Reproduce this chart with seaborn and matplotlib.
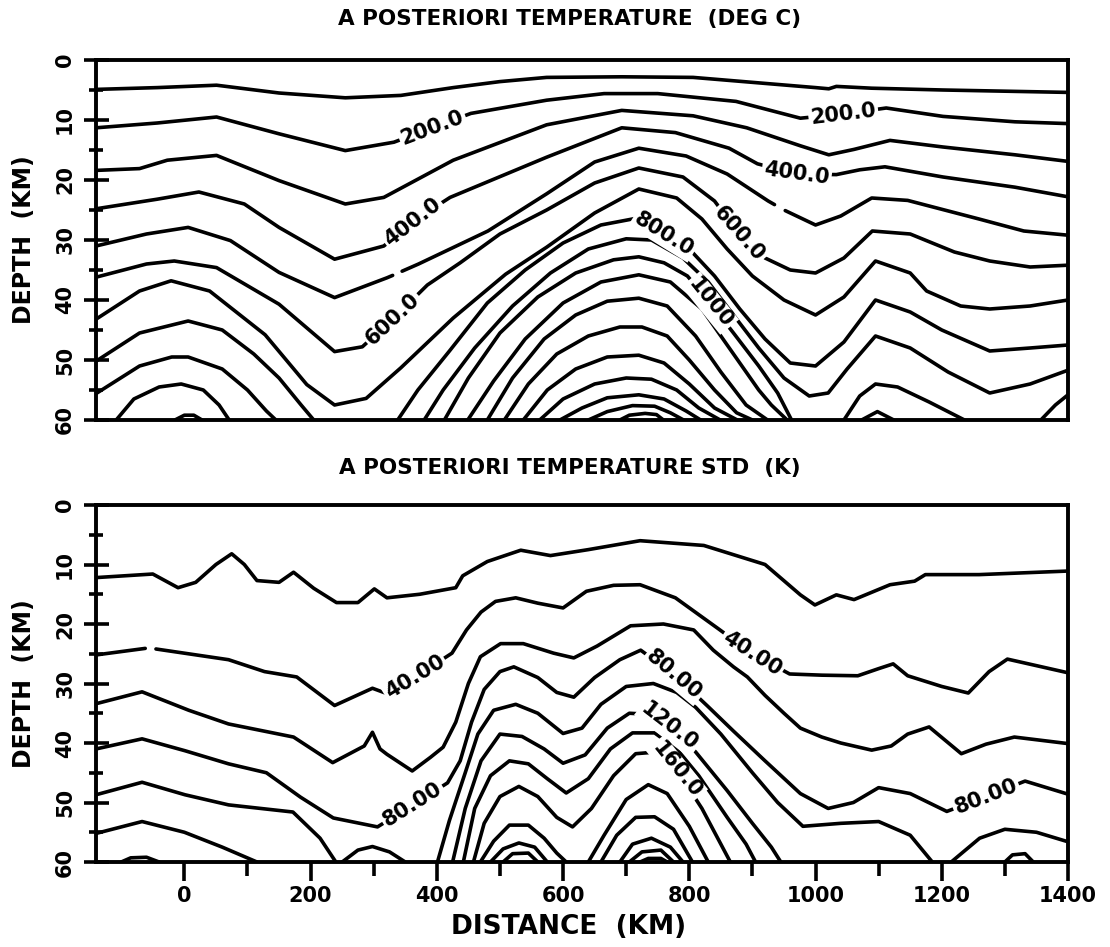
import numpy as np
import matplotlib
matplotlib.use("Agg")
import matplotlib.pyplot as plt
from matplotlib.ticker import FixedLocator
import seaborn as sns

# ---------------------------------------------------------------------------
# Contour lines of the a-posteriori temperature section, as (distance km, depth km)
# ---------------------------------------------------------------------------
T100 = [(-140, 4.9), (-43, 4.6), (51, 4.2), (150, 5.5), (255, 6.3), (343, 5.9), (426, 4.6),
        (500, 3.6), (574, 2.9), (693, 2.8), (806, 2.9), (920, 3.9), (1000, 4.6), (1021, 4.8),
        (1033, 4.4), (1089, 4.7), (1202, 5.0), (1400, 5.4)]
T200 = [(-140, 11.3), (-43, 10.5), (51, 9.5), (150, 12.3), (255, 15.1), (332, 13.7), (393, 11.3),
        (454, 8.9), (574, 6.7), (665, 5.6), (750, 5.6), (874, 6.9), (976, 9.7), (1044, 9.0),
        (1112, 8.0), (1202, 9.4), (1316, 10.3), (1400, 10.6)]
T300 = [(-140, 18.4), (-71, 18.1), (-27, 16.7), (51, 15.9), (150, 20.1), (255, 24.0), (316, 22.9),
        (426, 16.7), (574, 10.8), (693, 8.4), (806, 9.3), (891, 11.3), (976, 14.3), (1021, 15.8),
        (1061, 14.9), (1118, 13.4), (1202, 14.5), (1316, 15.8), (1400, 16.9)]
T400 = [(-140, 24.8), (-43, 23.2), (23, 22.0), (95, 24.0), (150, 27.9), (238, 33.2), (316, 31.0),
        (368, 26.5), (421, 22.9), (574, 16.2), (693, 11.3), (778, 12.1), (863, 14.7), (908, 17.3),
        (970, 19.0), (1033, 19.1), (1070, 18.3), (1110, 17.8), (1202, 19.5), (1316, 21.2), (1400, 22.8)]
T500_a = [(-140, 31.0), (-60, 29.0), (6, 27.9), (73, 30.1), (150, 35.4), (238, 39.6), (321, 36.3),
          (330, 35.9)]
T500_b = [(345, 35.2), (371, 34.0), (481, 28.5), (574, 22.3), (650, 17.0), (720, 14.7), (795, 16.0),
          (860, 19.0), (925, 23.5), (935, 24.1)]
T500_c = [(952, 25.1), (960, 25.5), (1000, 27.5), (1040, 26.0), (1089, 23.0), (1146, 23.4),
          (1259, 26.5), (1330, 28.5), (1400, 29.2)]
T600 = [(-140, 36.2), (-60, 34.0), (-16, 33.5), (51, 34.6), (150, 40.7), (238, 48.6), (282, 47.8),
        (334, 42.8), (385, 37.5), (437, 33.8), (500, 29.0), (574, 25.0), (650, 20.5), (720, 18.0),
        (790, 19.5), (840, 23.5), (879, 29.0), (920, 33.0), (960, 35.0), (1000, 35.5), (1045, 33.0),
        (1090, 28.5), (1150, 29.0), (1220, 32.0), (1276, 33.5), (1340, 34.5), (1400, 34.2)]
T700 = [(-140, 43.2), (-71, 38.5), (-21, 36.8), (40, 38.5), (128, 45.8), (194, 54.1), (238, 57.5),
        (288, 56.4), (343, 51.3), (426, 43.0), (509, 35.7), (574, 31.2), (650, 25.5), (720, 21.5),
        (780, 23.0), (820, 26.5), (860, 31.5), (900, 36.0), (950, 40.0), (1000, 42.5), (1045, 39.5),
        (1095, 33.5), (1150, 35.5), (1176, 38.5), (1230, 41.0), (1276, 41.5), (1340, 41.0), (1400, 40.0)]
T800_a = [(-140, 50.2), (-71, 45.5), (6, 43.5), (60, 45.0), (110, 49.0), (150, 53.0), (185, 57.5),
          (205, 60.0)]
T800_b = [(338, 60.0), (370, 55.0), (420, 48.5), (480, 40.5), (540, 35.0), (600, 30.5), (660, 27.5),
          (720, 26.3), (760, 29.0), (800, 31.5), (840, 36.0), (880, 41.5), (920, 46.5), (960, 50.5),
          (1000, 51.0), (1045, 47.0), (1095, 40.0), (1150, 42.0), (1200, 45.0), (1276, 48.5),
          (1340, 48.0), (1400, 47.5)]
T900_a = [(-140, 55.6), (-71, 51.0), (-20, 49.5), (6, 49.5), (60, 51.5), (100, 55.0), (130, 58.5),
          (145, 60.0)]
T900_b = [(380, 60.0), (410, 55.0), (460, 48.0), (520, 41.0), (580, 35.5), (640, 31.5), (700, 29.8),
          (740, 30.0), (790, 33.0), (830, 37.0), (870, 42.5), (910, 48.0), (950, 53.0), (990, 56.0),
          (1020, 55.5), (1050, 51.5), (1095, 46.0), (1150, 48.0), (1210, 52.0), (1276, 55.5),
          (1340, 54.0), (1400, 51.7)]
T1000_a = [(-108, 60.0), (-80, 56.5), (-40, 54.5), (-5, 54.0), (30, 55.0), (55, 57.5), (71, 60.0)]
T1000_b = [(412, 60.0), (450, 53.0), (500, 45.5), (560, 39.5), (620, 35.5), (680, 33.3), (720, 32.8),
           (760, 33.8), (797, 36.0), (833, 40.5), (870, 45.5), (910, 51.0), (940, 55.5), (962, 60.0)]
T1000_c = [(1045, 60.0), (1070, 56.0), (1095, 54.0), (1130, 54.5), (1180, 57.0), (1236, 60.0)]
T1000_d = [(1357, 60.0), (1380, 57.5), (1400, 55.8)]
T1100_a = [(-15, 60.0), (0, 59.2), (15, 59.2), (28, 60.0)]
T1100_b = [(449, 60.0), (490, 53.5), (540, 46.5), (600, 40.5), (660, 37.0), (720, 35.8), (770, 37.0),
           (820, 41.5), (870, 49.0), (910, 55.0), (930, 57.5), (955, 60.0)]
T1100_c = [(1073, 60.0), (1098, 58.6), (1124, 60.0)]
T1200 = [(480, 60.0), (520, 53.0), (570, 46.5), (620, 42.5), (670, 40.2), (720, 39.7), (765, 41.0),
         (810, 46.0), (850, 52.0), (890, 57.5), (924, 60.0)]
T1300 = [(507, 60.0), (545, 54.0), (590, 49.0), (640, 46.0), (690, 44.5), (725, 44.5), (765, 46.0),
         (800, 50.0), (840, 55.0), (875, 58.8), (900, 60.0)]
T1400 = [(537, 60.0), (575, 55.0), (620, 51.5), (670, 49.5), (720, 49.2), (760, 50.5), (800, 54.0),
         (840, 58.0), (876, 60.0)]
T1500 = [(563, 60.0), (600, 56.5), (650, 54.0), (700, 53.0), (740, 53.2), (780, 55.0), (815, 58.0),
         (849, 60.0)]
T1600 = [(595, 60.0), (630, 58.0), (670, 56.3), (720, 55.8), (760, 56.5), (795, 58.5), (818, 60.0)]
T1700 = [(640, 60.0), (670, 58.6), (710, 57.6), (745, 57.7), (770, 58.8), (791, 60.0)]
T1800 = [(690, 60.0), (705, 59.2), (730, 58.9), (748, 59.1), (759, 60.0)]

temp_lines = [(100, T100), (200, T200), (300, T300), (400, T400),
              (500, T500_a), (500, T500_b), (500, T500_c), (600, T600),
              (700, T700), (800, T800_a), (800, T800_b), (900, T900_a), (900, T900_b),
              (1000, T1000_a), (1000, T1000_b), (1000, T1000_c), (1000, T1000_d),
              (1100, T1100_a), (1100, T1100_b), (1100, T1100_c), (1200, T1200), (1300, T1300),
              (1400, T1400), (1500, T1500), (1600, T1600), (1700, T1700), (1800, T1800)]
# (level, distance of the label centre)
temp_labels = [(200, 393), (400, 362), (600, 330), (200, 1044), (400, 970), (600, 879),
               (800, 760), (1000, 833)]

# ---------------------------------------------------------------------------
# Contour lines of the a-posteriori temperature standard deviation
# ---------------------------------------------------------------------------
S20 = [(-140, 12.2), (-50, 11.6), (-10, 13.9), (18, 13.0), (50, 10.0), (75, 8.2), (95, 10.0),
       (115, 12.7), (150, 13.0), (173, 11.3), (205, 14.0), (241, 16.4), (275, 16.4), (301, 14.1),
       (321, 15.6), (373, 15.0), (430, 13.9), (441, 11.9), (480, 9.5), (533, 7.6), (580, 8.5),
       (640, 7.5), (722, 6.0), (823, 6.8), (920, 10.0), (976, 15.1), (999, 16.8), (1033, 15.1),
       (1061, 15.9), (1118, 13.4), (1157, 12.8), (1174, 11.7), (1259, 11.7), (1400, 11.1)]
S40_a = [(-140, 25.2), (-62, 24.1)]
S40_b = [(-45, 24.2), (70, 26.0), (127, 28.0), (178, 28.9), (238, 33.7), (298, 30.8), (321, 31.7),
         (372, 28.5), (424, 24.9), (447, 21.0), (470, 18.0), (493, 16.2), (525, 15.6), (560, 16.5),
         (600, 17.3), (637, 14.5), (680, 13.5), (722, 13.4), (778, 15.6), (846, 20.8), (900, 25.0),
         (959, 28.4), (1010, 28.6), (1067, 28.7), (1100, 27.5), (1123, 26.7), (1146, 28.7),
         (1200, 30.5), (1242, 31.6), (1275, 28.0), (1304, 25.9), (1350, 27.0), (1400, 28.2)]
S60 = [(-140, 33.4), (-67, 31.4), (7, 34.5), (70, 36.8), (173, 39.0), (235, 43.3), (285, 40.5),
       (298, 38.2), (310, 41.0), (321, 41.9), (361, 44.7), (390, 42.4), (410, 40.7), (430, 36.5),
       (450, 30.0), (469, 25.5), (501, 23.3), (537, 23.3), (585, 24.9), (617, 25.7), (654, 23.7),
       (707, 20.3), (759, 20.0), (807, 21.0), (838, 24.4), (870, 27.2), (892, 28.9), (920, 32.0),
       (950, 35.0), (976, 37.5), (1010, 39.0), (1040, 40.0), (1089, 41.2), (1120, 40.5),
       (1146, 38.5), (1180, 37.3), (1231, 41.8), (1270, 40.2), (1315, 39.0), (1400, 40.1)]
S80 = [(-140, 41.0), (-67, 39.3), (1, 41.3), (70, 43.5), (130, 45.0), (184, 49.1), (236, 52.6),
       (306, 54.1), (362, 50.4), (417, 46.7), (437, 43.0), (455, 36.5), (475, 31.0), (500, 28.0),
       (522, 27.2), (560, 29.0), (590, 31.5), (617, 32.3), (650, 29.0), (690, 26.0), (723, 24.4),
       (776, 28.5), (829, 33.8), (870, 38.0), (920, 43.0), (976, 48.5), (1020, 51.0), (1060, 50.0),
       (1100, 47.5), (1150, 48.5), (1208, 51.5), (1270, 49.0), (1332, 46.4), (1400, 48.6)]
S100_a = [(-140, 48.7), (-67, 46.6), (1, 48.7), (70, 50.4), (172, 51.6), (215, 56.0), (240, 60.0)]
S100_b = [(250, 60.0), (275, 58.0), (298, 57.4), (325, 58.3), (350, 60.0)]
S100_c = [(401, 60.0), (420, 53.0), (445, 45.0), (465, 38.5), (490, 34.5), (525, 33.5), (560, 35.0),
          (600, 38.4), (630, 37.5), (660, 33.5), (700, 30.5), (743, 30.0), (780, 31.5), (810, 34.0),
          (850, 38.5), (900, 45.0), (940, 50.0), (980, 54.0), (1040, 53.5), (1100, 53.2),
          (1150, 55.5), (1185, 60.0)]
S100_d = [(1215, 60.0), (1260, 56.0), (1300, 54.5), (1350, 55.0), (1400, 56.6)]
S120_a = [(-140, 55.2), (-67, 53.2), (0, 55.0), (60, 57.5), (115, 60.0)]
S120_b = [(425, 60.0), (445, 51.0), (470, 43.0), (500, 38.5), (535, 38.9), (570, 41.0), (600, 43.4),
          (635, 42.0), (670, 37.5), (705, 35.0), (740, 35.2), (775, 37.8), (810, 41.5), (860, 48.0),
          (900, 53.5), (930, 57.5), (945, 60.0)]
S120_c = [(1300, 60.0), (1312, 58.8), (1332, 58.6), (1345, 60.0)]
S140_a = [(-100, 60.0), (-85, 59.3), (-60, 59.2), (-40, 60.0)]
S140_b = [(442, 60.0), (460, 51.0), (485, 45.5), (515, 43.0), (545, 43.5), (575, 46.0), (605, 48.4),
          (640, 46.0), (675, 41.0), (710, 38.3), (745, 38.3), (780, 41.0), (815, 45.5), (860, 52.5),
          (890, 57.0), (905, 60.0)]
S160 = [(458, 60.0), (475, 53.5), (500, 49.0), (530, 47.3), (560, 49.0), (590, 52.5), (615, 54.1),
        (645, 51.0), (680, 45.5), (715, 41.8), (750, 41.5), (780, 44.5), (820, 51.0), (850, 57.0),
        (865, 60.0)]
S180_a = [(469, 60.0), (490, 56.5), (515, 53.8), (545, 53.8), (570, 56.0), (590, 58.5), (605, 60.0)]
S180_b = [(640, 60.0), (665, 55.5), (700, 49.5), (735, 47.0), (765, 48.5), (800, 54.0), (830, 60.0)]
S200_a = [(485, 60.0), (505, 57.8), (530, 56.8), (555, 57.5), (575, 60.0)]
S200_b = [(660, 60.0), (685, 55.5), (715, 52.5), (745, 52.4), (775, 54.5), (805, 60.0)]
S220_a = [(505, 60.0), (520, 58.6), (545, 58.5), (560, 60.0)]
S220_b = [(690, 60.0), (710, 57.0), (740, 56.0), (770, 57.5), (790, 60.0)]
S240 = [(705, 60.0), (725, 58.3), (755, 58.0), (775, 60.0)]
S260 = [(722, 60.0), (735, 59.4), (755, 59.4), (765, 60.0)]

std_lines = [(20, S20), (40, S40_a), (40, S40_b), (60, S60), (80, S80),
             (100, S100_a), (100, S100_b), (100, S100_c), (100, S100_d),
             (120, S120_a), (120, S120_b), (120, S120_c), (140, S140_a), (140, S140_b),
             (160, S160), (180, S180_a), (180, S180_b), (200, S200_a), (200, S200_b),
             (220, S220_a), (220, S220_b), (240, S240), (260, S260)]
std_labels = [(40, 365), (40, 900), (80, 362), (80, 776), (80, 1270), (120, 768), (160, 780)]

x_ticks = [0, 200, 400, 600, 800, 1000, 1200, 1400]
x_minor = [100, 300, 500, 700, 900, 1100, 1300]
y_ticks = [0, 10, 20, 30, 40, 50, 60]
y_minor = [5, 15, 25, 35, 45, 55]

# ---------------------------------------------------------------------------
sns.set_theme(style="white")
plt.rcParams["font.family"] = ["DejaVu Sans"]
plt.rcParams["font.weight"] = "bold"
for key in ("text.color", "axes.labelcolor", "xtick.color", "ytick.color", "axes.edgecolor"):
    plt.rcParams[key] = "black"

FIG_W, FIG_H = 1110, 947
fig = plt.figure(figsize=(FIG_W / 100, FIG_H / 100), dpi=100)
ax_top = fig.add_axes([96 / FIG_W, 1 - 420 / FIG_H, 972 / FIG_W, 360 / FIG_H])
ax_bot = fig.add_axes([96 / FIG_W, 1 - 862 / FIG_H, 972 / FIG_W, 357 / FIG_H])

LW = 2.6


def level_text(v):
    digits = len(str(int(v)))
    return f"{v:.{max(0, 4 - digits)}f}"


def draw_lines(ax, lines):
    for _, pts in lines:
        xs = [p[0] for p in pts]
        ys = [p[1] for p in pts]
        sns.lineplot(x=xs, y=ys, ax=ax, color="black", linewidth=LW, sort=False,
                     estimator=None, legend=False, solid_joinstyle="round",
                     solid_capstyle="round")


def draw_labels(ax, lines, labels, size):
    for level, km in labels:
        for lev, pts in lines:
            xs = np.array([p[0] for p in pts], float)
            if lev == level and xs.min() <= km <= xs.max():
                ys = np.array([p[1] for p in pts], float)
                break
        z = np.interp(km, xs, ys)
        p0 = ax.transData.transform((km - 14, np.interp(km - 14, xs, ys)))
        p1 = ax.transData.transform((km + 14, np.interp(km + 14, xs, ys)))
        ang = np.degrees(np.arctan2(p1[1] - p0[1], p1[0] - p0[0]))
        ax.text(km, z, level_text(level), rotation=ang, rotation_mode="anchor",
                ha="center", va="center", fontsize=size, fontweight="bold", zorder=6,
                color="black",
                bbox=dict(boxstyle="square,pad=0.1", fc="white", ec="none"))


def style_axes(ax, bottom_ticks):
    ax.set_xlim(-140, 1400)
    ax.set_ylim(60, 0)
    for sp in ax.spines.values():
        sp.set_visible(True)
        sp.set_color("black")
        sp.set_linewidth(2.8)
    ax.yaxis.set_major_locator(FixedLocator(y_ticks))
    ax.yaxis.set_minor_locator(FixedLocator(y_minor))
    ax.set_yticklabels([str(v) for v in y_ticks], rotation=90, va="center",
                       fontsize=15, fontweight="bold")
    ax.tick_params(axis="y", which="major", direction="inout", length=18, width=2.6,
                   pad=6, left=True, right=False, colors="black")
    ax.tick_params(axis="y", which="minor", direction="inout", length=10, width=2.6,
                   left=True, right=False, colors="black")
    if bottom_ticks:
        ax.xaxis.set_major_locator(FixedLocator(x_ticks))
        ax.xaxis.set_minor_locator(FixedLocator(x_minor))
        ax.set_xticklabels([str(v) for v in x_ticks], fontsize=15, fontweight="bold")
        ax.tick_params(axis="x", which="major", direction="out", length=14, width=2.6,
                       pad=3, bottom=True, top=False, colors="black")
        ax.tick_params(axis="x", which="minor", direction="out", length=10, width=2.6,
                       bottom=True, top=False, colors="black")
    else:
        ax.set_xticks([])
    ax.set_xlabel("")
    ax.set_ylabel("DEPTH  (KM)", fontsize=17, fontweight="bold", labelpad=14, color="black")
    ax.grid(False)


draw_lines(ax_top, temp_lines)
draw_lines(ax_bot, std_lines)
style_axes(ax_top, bottom_ticks=False)
style_axes(ax_bot, bottom_ticks=True)
ax_bot.set_xlabel("DISTANCE  (KM)", fontsize=19, fontweight="bold", color="black")
ax_bot.xaxis.set_label_coords((569 - 96) / 972, -0.145)

draw_labels(ax_top, temp_lines, temp_labels, 15)
draw_labels(ax_bot, std_lines, std_labels, 15)

fig.text(570 / FIG_W, 1 - 19 / FIG_H, "A POSTERIORI TEMPERATURE  (DEG C)",
         ha="center", va="center", fontsize=15.5, fontweight="bold", color="black")
fig.text(570 / FIG_W, 1 - 468 / FIG_H, "A POSTERIORI TEMPERATURE STD  (K)",
         ha="center", va="center", fontsize=15.5, fontweight="bold", color="black")

fig.savefig("out.png", dpi=100, facecolor="white")
